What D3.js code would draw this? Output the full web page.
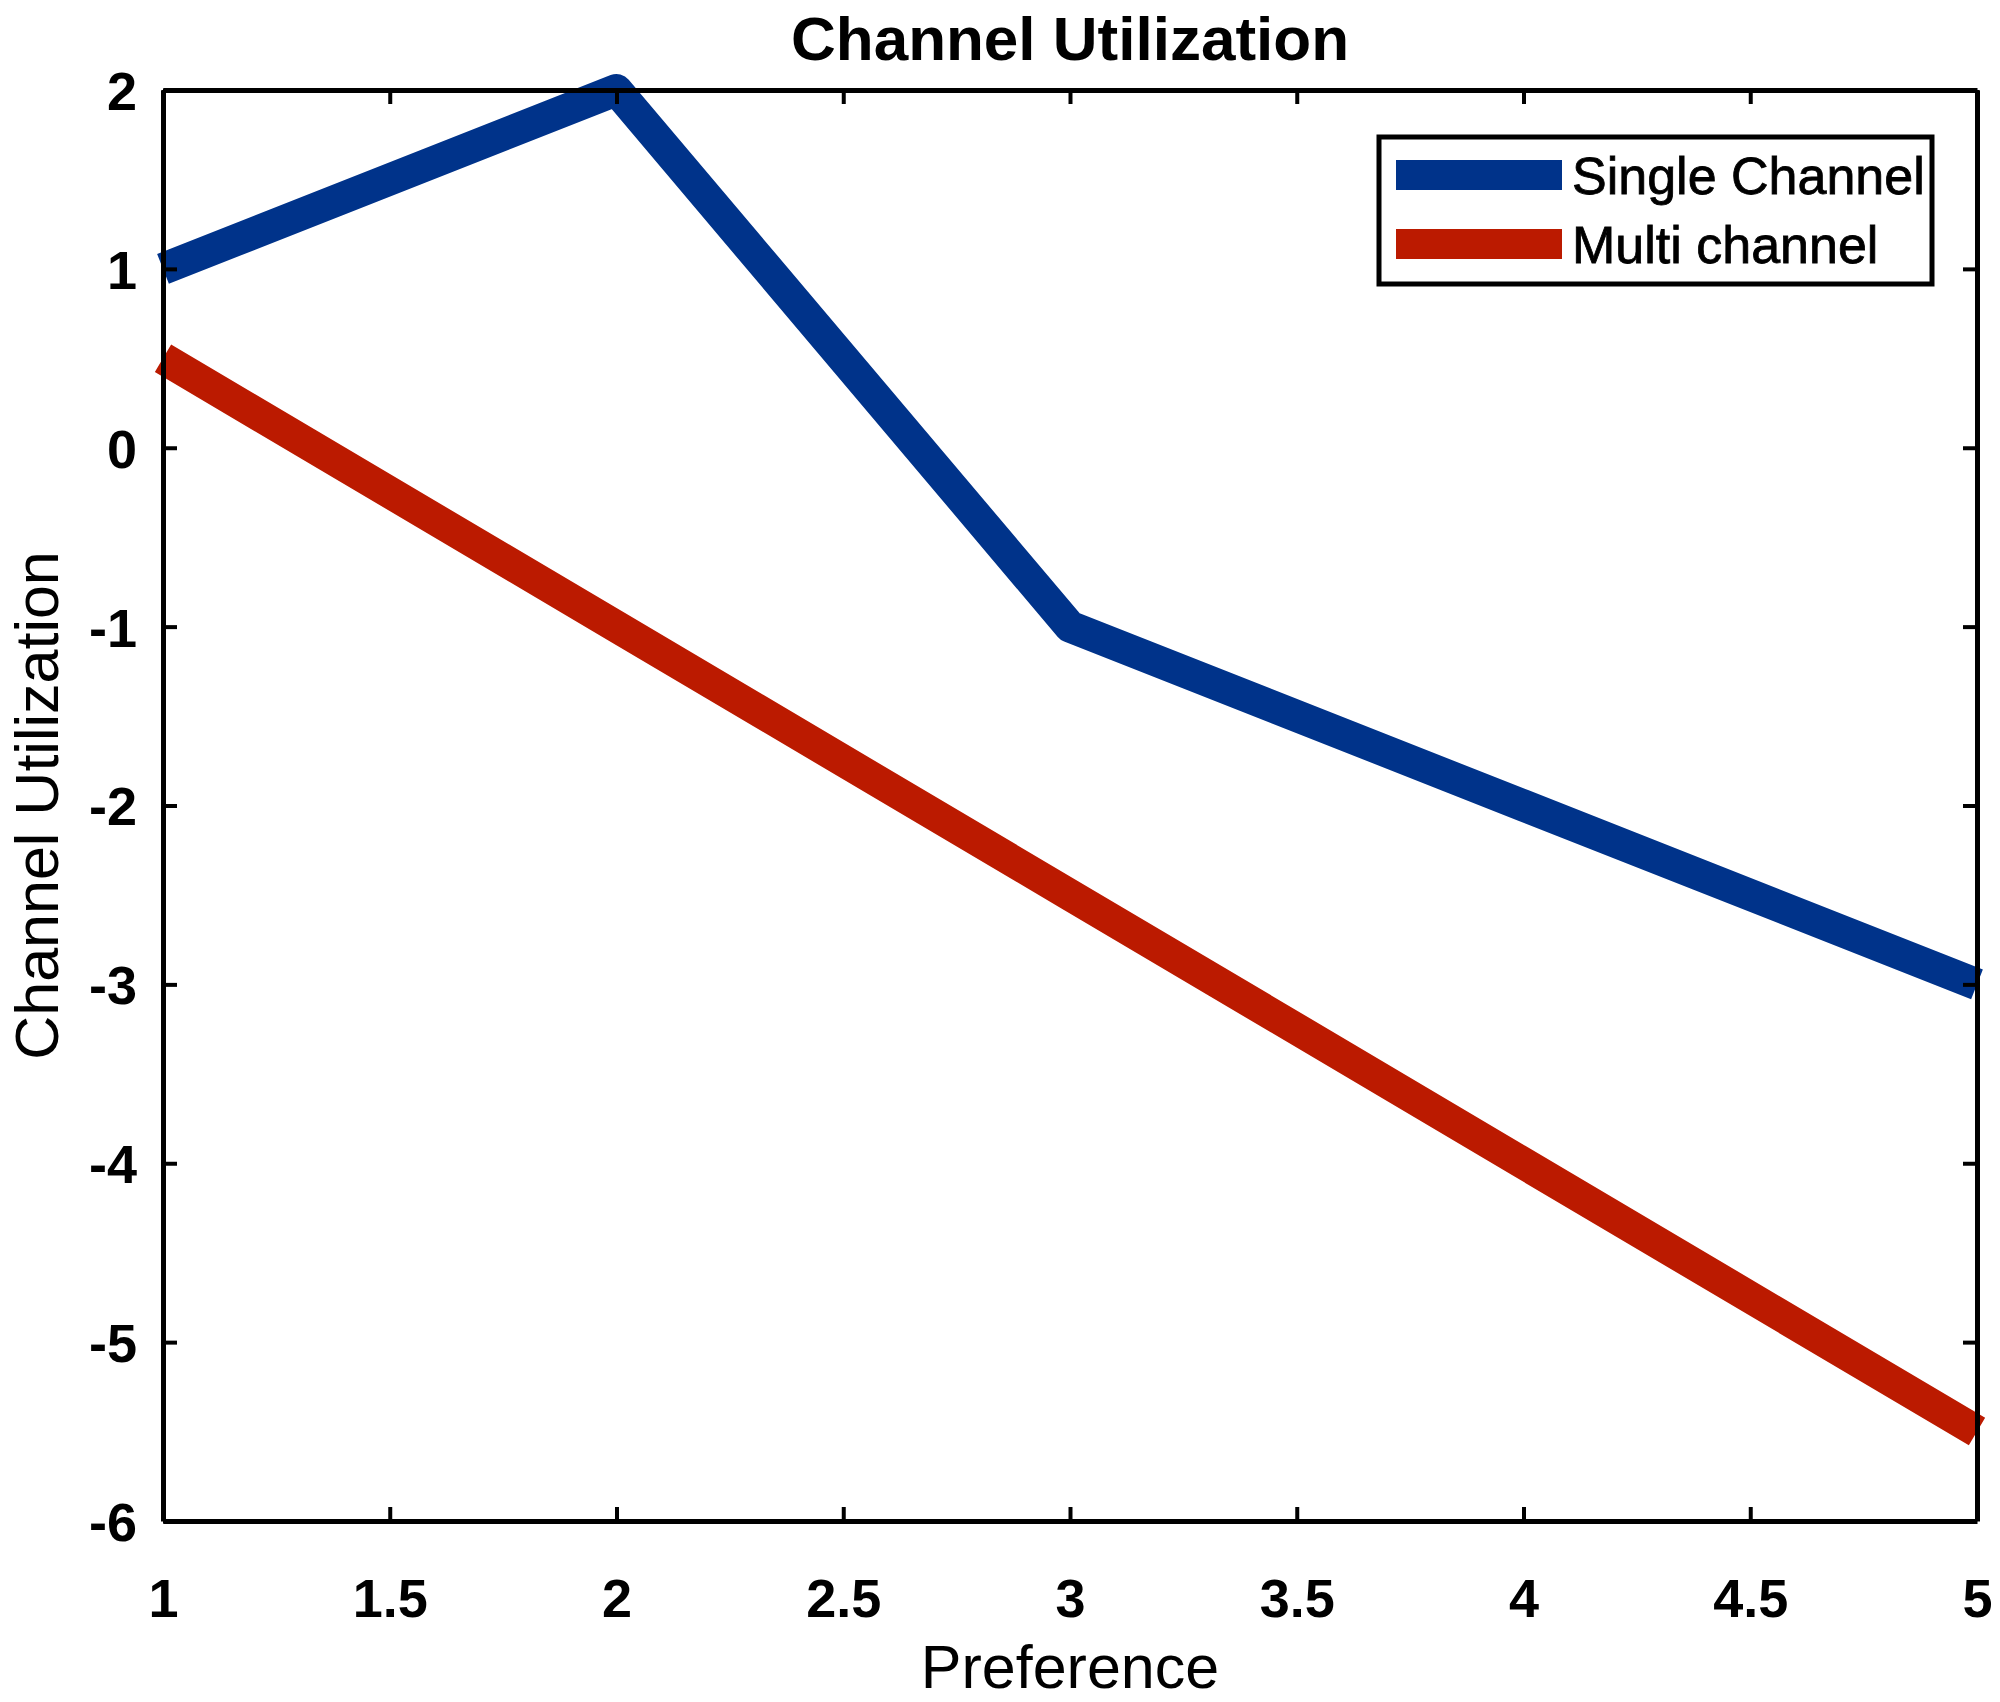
<!DOCTYPE html>
<html>
<head>
<meta charset="utf-8">
<script src="https://cdn.jsdelivr.net/npm/d3@7"></script>
<style>
  html, body { margin: 0; padding: 0; background: #fff; }
  svg { display: block; }
  text { font-family: "Liberation Sans", Arial, sans-serif; fill: #000; }
</style>
</head>
<body>
<svg id="chart" width="2000" height="1702"></svg>
<script>
const preference = [1, 2, 3, 4, 5];
const singleChannel = [1, 2, -1, -2, -3];
const multiChannel = [0.5, -1, -2.5, -4, -5.5];
const seriesNames = ["Single Channel", "Multi channel"];
const seriesColors = ["#00338a", "#bb1a00"];
const xTicks = [1, 1.5, 2, 2.5, 3, 3.5, 4, 4.5, 5];
const yTicks = [-6, -5, -4, -3, -2, -1, 0, 1, 2];
const titleText = "Channel Utilization";
const xLabel = "Preference";
const yLabel = "Channel Utilization";

const W = 2000, H = 1702;
const m = { left: 163, right: 1977, top: 90, bottom: 1521 };

const svg = d3.select("#chart");
const x = d3.scaleLinear().domain([1, 5]).range([m.left, m.right]);
const y = d3.scaleLinear().domain([-6, 2]).range([m.bottom, m.top]);

// lines
const line = d3.line().x(d => x(d[0])).y(d => y(d[1]));
const series = [singleChannel, multiChannel];
series.forEach((vals, i) => {
  svg.append("path")
    .datum(preference.map((p, j) => [p, vals[j]]))
    .attr("d", line)
    .attr("fill", "none")
    .attr("stroke", seriesColors[i])
    .attr("stroke-width", 32)
    .attr("stroke-linejoin", "round")
    .attr("stroke-linecap", "butt");
});

// axes (ticks inside, on all four sides)
const tickLen = 14;
const fmt = d => String(d);
const axB = svg.append("g").attr("transform", `translate(0,${m.bottom})`)
  .call(d3.axisBottom(x).tickValues(xTicks).tickSizeInner(-tickLen).tickSizeOuter(0).tickPadding(58).tickFormat(fmt));
const axT = svg.append("g").attr("transform", `translate(0,${m.top})`)
  .call(d3.axisTop(x).tickValues(xTicks).tickSizeInner(-tickLen).tickSizeOuter(0).tickFormat(""));
const axL = svg.append("g").attr("transform", `translate(${m.left},0)`)
  .call(d3.axisLeft(y).tickValues(yTicks).tickSizeInner(-tickLen).tickSizeOuter(0).tickPadding(26).tickFormat(fmt));
const axR = svg.append("g").attr("transform", `translate(${m.right},0)`)
  .call(d3.axisRight(y).tickValues(yTicks).tickSizeInner(-tickLen).tickSizeOuter(0).tickFormat(""));

[axB, axT, axL, axR].forEach(g => {
  g.select(".domain").attr("stroke", "#000").attr("stroke-width", 5);
  g.selectAll(".tick line").attr("stroke", "#000").attr("stroke-width", 4);
  g.selectAll(".tick text")
    .attr("fill", "#000")
    .style("font-size", "54px")
    .style("font-weight", "bold")
    .style("font-family", "'Liberation Sans', Arial, sans-serif");
});
axB.selectAll(".tick text").attr("dy", "0.71em");
axL.selectAll(".tick text").attr("dy", "0.36em");

// title
svg.append("text")
  .attr("x", (m.left + m.right) / 2).attr("y", 60)
  .attr("text-anchor", "middle")
  .style("font-size", "62px").style("font-weight", "bold")
  .text(titleText);

// x label
svg.append("text")
  .attr("x", (m.left + m.right) / 2).attr("y", 1688)
  .attr("text-anchor", "middle")
  .style("font-size", "61px")
  .text(xLabel);

// y label
svg.append("text")
  .attr("transform", `translate(58,${(m.top + m.bottom) / 2}) rotate(-90)`)
  .attr("text-anchor", "middle")
  .style("font-size", "61px")
  .text(yLabel);

// legend
const lg = svg.append("g");
lg.append("rect")
  .attr("x", 1379).attr("y", 137).attr("width", 553).attr("height", 147)
  .attr("fill", "#fff").attr("stroke", "#000").attr("stroke-width", 5);
seriesNames.forEach((name, i) => {
  const yy = 175 + i * 69;
  lg.append("line")
    .attr("x1", 1396).attr("x2", 1562).attr("y1", yy).attr("y2", yy)
    .attr("stroke", seriesColors[i]).attr("stroke-width", 30);
  lg.append("text")
    .attr("x", 1572).attr("y", yy).attr("dy", "0.36em")
    .style("font-size", "52px")
    .attr("stroke", "#000").attr("stroke-width", 0.8)
    .text(name);
});
</script>
</body>
</html>
